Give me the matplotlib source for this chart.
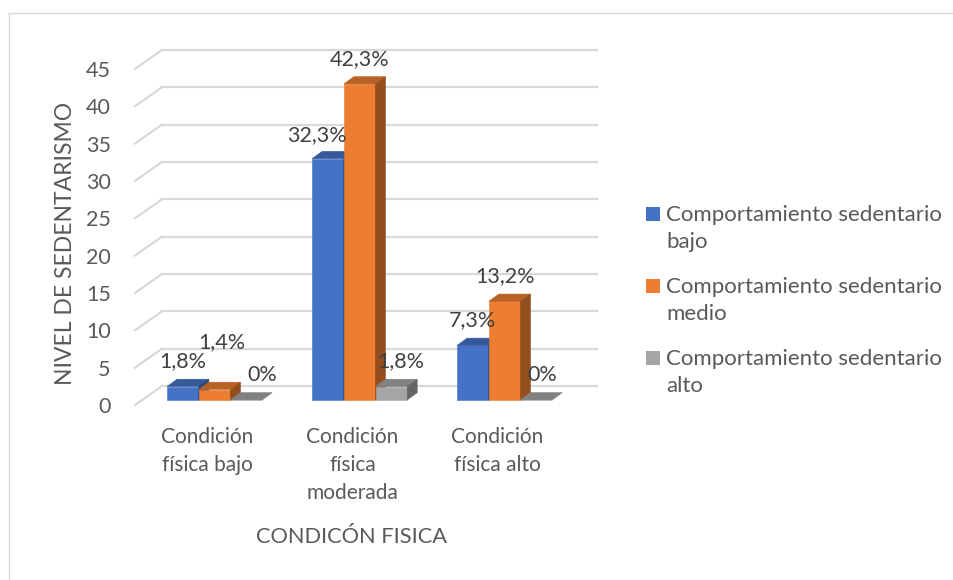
import numpy as np
import matplotlib.pyplot as plt
from matplotlib.patches import Polygon, Rectangle
from matplotlib.lines import Line2D
from matplotlib.colors import to_rgb

plt.rcParams['font.family'] = ['Lato', 'DejaVu Sans']

# data
categories = ["Condición\nfísica bajo", "Condición\nfísica\nmoderada", "Condición\nfísica alto"]
series = ["Comportamiento sedentario\nbajo",
          "Comportamiento sedentario\nmedio",
          "Comportamiento sedentario\nalto"]
sed_bajo = [1.8, 32.3, 7.3]
sed_medio = [1.4, 42.3, 13.2]
sed_alto = [0, 1.8, 0]
labels_bajo = ["1,8%", "32,3%", "7,3%"]
labels_medio = ["1,4%", "42,3%", "13,2%"]
labels_alto = ["0%", "1,8%", "0%"]
y_ticks = [0, 5, 10, 15, 20, 25, 30, 35, 40, 45]

colors = ["#4472C4", "#ED7D31", "#A5A5A5"]
TEXT = "#595959"
LABEL = "#404040"
GRID = "#D9D9D9"

# geometry (pixels of the 954x580 image)
W, H = 954, 580
X0, Y0 = 135, 405          # front-left corner of the floor
CAT_PX = 145               # px per category
UNIT_PX = 7.47             # px per value unit
AX_RIGHT, AX_TOP = 600, 40

# depth of the floor and of the bars, in data units
DX, DY = 27 / CAT_PX, 19 / UNIT_PX
FRONT = 0.265
BX, BY = 10 / CAT_PX, 7.3 / UNIT_PX
BAR_W = 31.7 / CAT_PX

# label nudges in pixels (default is straight above the bar)
nudge = {(1, 0): (7, 47), (2, 0): (16, 25), (0, 1): (-11, 24),
         (2, 1): (9, 25), (2, 2): (6, 25)}


def shade(c, f):
    return tuple(np.array(to_rgb(c)) * f)


fig = plt.figure(figsize=(W / 100, H / 100), dpi=100)
ax = fig.add_axes([X0 / W, (H - Y0) / H, (AX_RIGHT - X0) / W, (Y0 - AX_TOP) / H])
ax.set_xlim(0, (AX_RIGHT - X0) / CAT_PX)
ax.set_ylim(0, (Y0 - AX_TOP) / UNIT_PX)
for s in ax.spines.values():
    s.set_visible(False)

# walls / gridlines
n_cat = len(categories)
for v in y_ticks:
    ax.plot([DX, n_cat + DX], [v + DY, v + DY], color=GRID, lw=1.6, zorder=1, clip_on=False)
    ax.plot([0, DX], [v, v + DY], color=GRID, lw=1.6, zorder=1, clip_on=False)

z = 3
values = [sed_bajo, sed_medio, sed_alto]
texts = [labels_bajo, labels_medio, labels_alto]
for j in range(n_cat):
    for i, (vals, col) in enumerate(zip(values, colors)):
        h = vals[j]
        x = j + 0.5 + (i - 1.5) * BAR_W
        bx, by = x + FRONT * DX, FRONT * DY
        top_c, side_c = shade(col, 0.78), shade(col, 0.62)
        ax.bar(bx, h, BAR_W, bottom=by, align='edge', color=col, ec=col, lw=0.4, zorder=z)
        top = [(bx, by + h), (bx + BAR_W, by + h), (bx + BAR_W + BX, by + h + BY), (bx + BX, by + h + BY)]
        side = [(bx + BAR_W, by), (bx + BAR_W, by + h), (bx + BAR_W + BX, by + h + BY), (bx + BAR_W + BX, by + BY)]
        ax.add_patch(Polygon(top, closed=True, fc=top_c, ec=top_c, lw=0.4, zorder=z + 1))
        if h > 0:
            ax.add_patch(Polygon(side, closed=True, fc=side_c, ec=side_c, lw=0.4, zorder=z + 1))
        z += 2

for j in range(n_cat):
    for i, vals in enumerate(values):
        h = vals[j]
        x = j + 0.5 + (i - 1.5) * BAR_W
        bx, by = x + FRONT * DX, FRONT * DY
        ox, oy = nudge.get((i, j), (0, 25))
        ax.annotate(texts[i][j], xy=(bx + BAR_W / 2, by + h), xytext=(ox, oy),
                    textcoords='offset pixels', ha='center', va='center',
                    fontsize=15.5, color=LABEL, zorder=50, annotation_clip=False)

ax.set_yticks(y_ticks)
ax.set_yticklabels([str(v) for v in y_ticks], color=TEXT, fontsize=15.5)
ax.set_xticks([j + 0.5 for j in range(n_cat)])
ax.set_xticklabels(categories, color=TEXT, fontsize=15, linespacing=1.5)
ax.tick_params(axis='y', length=0, pad=17.5)
ax.tick_params(axis='x', length=0, pad=16)

fig.text(65.5 / W, 1 - 243 / H, "NIVEL DE SEDENTARISMO", rotation=90, ha='center', va='center',
         fontsize=16.5, color=TEXT)
fig.text(352 / W, 1 - 537 / H, "CONDICÓN FISICA", ha='center', va='center', fontsize=15.7, color=TEXT)

# legend
for i, (name, col) in enumerate(zip(series, colors)):
    yc = 214 + 72 * i
    fig.patches.append(Rectangle((646 / W, 1 - (yc + 7) / H), 14 / W, 14 / H,
                                 transform=fig.transFigure, fc=col, ec='none'))
    fig.text(666 / W, 1 - (yc - 9) / H, name, ha='left', va='top', fontsize=16,
             color=TEXT, linespacing=1.45)

# chart border (top and left edges visible)
yb = 1 - 12.7 / H
fig.add_artist(Line2D([9 / W, 1], [yb, yb], transform=fig.transFigure, color=GRID, lw=1))
fig.add_artist(Line2D([9 / W, 9 / W], [yb, 0], transform=fig.transFigure, color=GRID, lw=1))

fig.savefig("out.png", dpi=100)
